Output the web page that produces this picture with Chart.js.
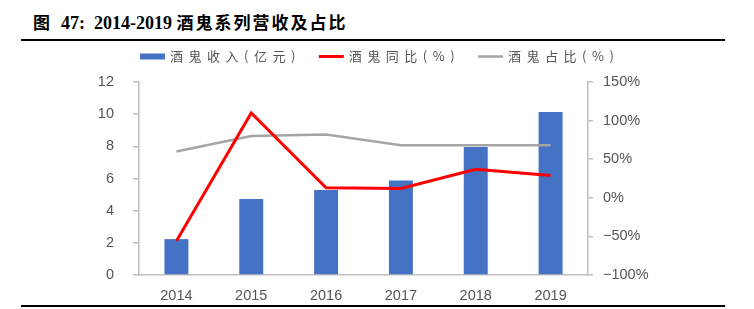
<!DOCTYPE html>
<html>
<head>
<meta charset="utf-8">
<script src="https://cdn.jsdelivr.net/npm/chart.js@4.4.0/dist/chart.umd.min.js"></script>
<style>
  html, body { margin:0; padding:0; background:#fff; }
  #wrap { position:relative; width:754px; height:309px; overflow:hidden; }
  #title {
    position:absolute; left:33px; top:9px; white-space:pre;
    font-family:"Liberation Serif","Noto Sans CJK SC",serif; font-weight:bold; font-size:18px; color:#000;
  }
  #title .cjk { font-family:"Noto Sans CJK SC",sans-serif; letter-spacing:2px; font-size:17px; }
  .rule { position:absolute; left:21px; width:704px; height:2px; background:#000; }
  #chart { position:absolute; left:0; top:0; }
</style>
</head>
<body>
<div id="wrap">
  <div id="title"><span class="cjk">图</span>  47:  2014-2019 <span class="cjk">酒鬼系列营收及占比</span></div>
  <div class="rule" style="top:39px"></div>
  <div class="rule" style="top:305px"></div>
  <canvas id="chart" width="754" height="309"></canvas>
</div>
<script>
// 数据
const years = ['2014', '2015', '2016', '2017', '2018', '2019'];
const revenue = [2.23, 4.73, 5.29, 5.87, 7.96, 10.14];   // 酒鬼收入(亿元)
const yoy = [-56, 110, 13, 12, 37, 29];                  // 酒鬼同比(%)
const share = [60, 80, 82, 68, 68, 68];                  // 酒鬼占比(%)
const leftTicks = [0, 2, 4, 6, 8, 10, 12];
const rightTicks = [-100, -50, 0, 50, 100, 150];

const BLUE = '#4472C4', RED = '#FF0000', GRAY = '#A5A5A5';
const AXIS = '#BFBFBF', TXT = '#555555';
const tickFont = { family: 'Liberation Sans, Arial, sans-serif', size: 14.5 };

// 图例 (画在图表上方)
const legendPlugin = {
  id: 'topLegend',
  afterDraw(chart) {
    const ctx = chart.ctx;
    const items = [
      { text: '酒鬼收入(亿元)', color: BLUE, h: 6 },
      { text: '酒鬼同比(%)', color: RED, h: 3 },
      { text: '酒鬼占比(%)', color: GRAY, h: 2.5 }
    ];
    ctx.save();
    ctx.font = '13px "Noto Sans CJK SC", sans-serif';
    ctx.letterSpacing = '5.5px';
    ctx.textBaseline = 'middle';
    let x = 140;
    const y = 56.5;
    items.forEach(it => {
      ctx.fillStyle = it.color;
      ctx.fillRect(x, y - it.h / 2, 25, it.h);
      ctx.fillStyle = TXT;
      ctx.fillText(it.text, x + 30, y);
      x += 30 + ctx.measureText(it.text).width + 18;
    });
    ctx.restore();
  }
};

new Chart(document.getElementById('chart'), {
  data: {
    labels: years,
    datasets: [
      {
        type: 'line', label: '酒鬼同比(%)', data: yoy, yAxisID: 'y1',
        borderColor: RED, borderWidth: 3, pointRadius: 0, tension: 0, order: 1
      },
      {
        type: 'line', label: '酒鬼占比(%)', data: share, yAxisID: 'y1',
        borderColor: GRAY, borderWidth: 2.5, pointRadius: 0, tension: 0, order: 2
      },
      {
        type: 'bar', label: '酒鬼收入(亿元)', data: revenue, yAxisID: 'y',
        backgroundColor: BLUE, barPercentage: 0.32, categoryPercentage: 1, order: 3
      }
    ]
  },
  options: {
    responsive: false,
    animation: false,
    devicePixelRatio: 1,
    layout: { padding: { top: 82, left: 0, right: 0, bottom: 0 } },
    plugins: {
      legend: { display: false },
      tooltip: { enabled: false }
    },
    scales: {
      x: {
        grid: { display: false },
        border: { display: true, color: AXIS, width: 1.5 },
        ticks: { color: TXT, font: tickFont, padding: 4 },
        afterFit(s) { s.height = 34; }
      },
      y: {
        position: 'left', min: 0, max: 12,
        afterBuildTicks(s) { s.ticks = leftTicks.map(v => ({ value: v })); },
        grid: { drawOnChartArea: false, drawTicks: true, tickLength: 6, color: AXIS, lineWidth: 1.5 },
        border: { display: true, color: AXIS, width: 1.5 },
        ticks: { color: TXT, font: tickFont, padding: 19 },
        afterFit(s) { s.width = 139; }
      },
      y1: {
        position: 'right', min: -100, max: 150,
        afterBuildTicks(s) { s.ticks = rightTicks.map(v => ({ value: v })); },
        grid: { drawOnChartArea: false, drawTicks: true, tickLength: 5, color: AXIS, lineWidth: 1.5 },
        border: { display: true, color: AXIS, width: 1.5 },
        ticks: {
          color: TXT, font: tickFont, padding: 10,
          callback: v => (v < 0 ? '\u2212' + Math.abs(v) : v) + '%'
        },
        afterFit(s) { s.width = 754 - 588; }
      }
    }
  },
  plugins: [legendPlugin]
});
</script>
</body>
</html>
